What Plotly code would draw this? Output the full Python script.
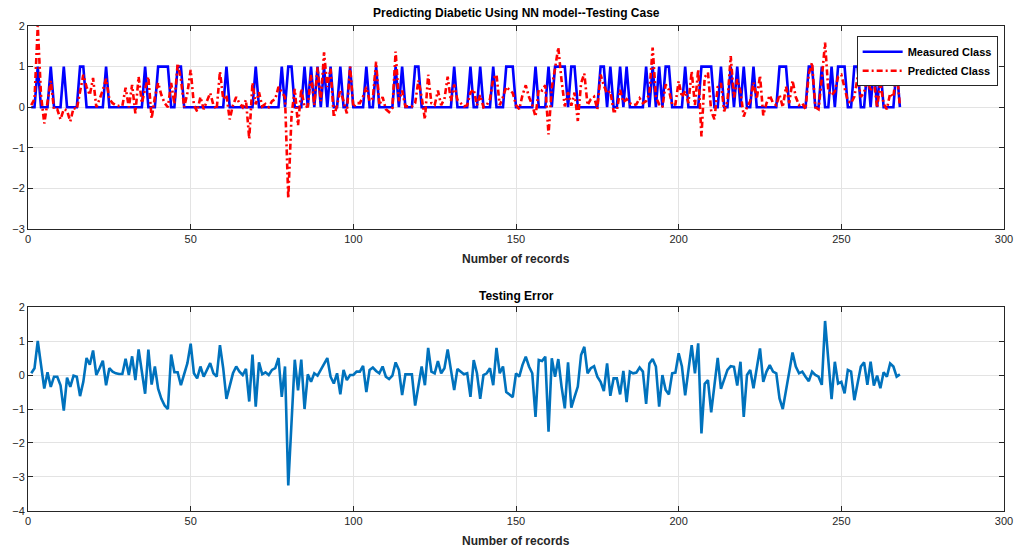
import plotly.graph_objects as go
from plotly.subplots import make_subplots

# Record indices 1..268
records = list(range(1, 269))

# Records whose measured class is 1 (all others are 0)
measured_one_records = [3, 7, 11, 16, 17, 24, 36, 40, 41, 42, 43, 46, 47, 61, 70, 78, 80, 81,
                        85, 87, 89, 91, 93, 96, 99, 104, 107, 113, 115, 119, 120, 131, 136, 139,
                        143, 147, 148, 149, 156, 160, 162, 163, 164, 165, 167, 168, 176, 177, 179,
                        182, 184, 190, 192, 194, 196, 197, 202, 207, 208, 209, 210, 213, 216, 218,
                        220, 223, 231, 232, 233, 240, 241, 244, 247, 249, 250, 251, 254, 255, 258,
                        260, 262, 267]

# Testing error (predicted - measured)
testing_error = [
    0.05, 0.2, 1.0, 0.3, -0.4, 0.08, -0.35, -0.05, -0.05, -0.3,
    -1.05, -0.08, -0.35, -0.02, -0.05, -0.62, -0.2, 0.5, 0.3, 0.72,
    0.0, 0.2, 0.42, -0.3, 0.2, 0.1, 0.05, 0.03, 0.03, 0.48,
    0.0, 0.55, -0.15, 0.75, 0.1, -0.55, 0.75, -0.28, 0.25, -0.4,
    -0.7, -0.9, -1.0, 0.6, 0.08, 0.08, -0.3, 0.0, 0.35, 0.92,
    0.05, -0.1, 0.25, -0.05, 0.15, 0.35, 0.05, -0.05, 0.88, 0.2,
    -0.7, -0.3, 0.05, 0.25, 0.1, 0.0, 0.18, -0.78, 0.6, -0.93,
    0.37, 0.02, 0.08, 0.0, 0.15, 0.2, 0.5, -0.64, 0.25, -3.25,
    -1.2, 0.45, -0.45, 0.45, -1.0, 0.02, -0.2, 0.05, -0.02, 0.15,
    0.35, 0.5, -0.05, -0.25, 0.05, -0.57, 0.15, -0.15, 0.0, 0.0,
    0.1, 0.1, 0.27, -0.5, 0.15, 0.22, 0.12, 0.05, 0.25, -0.05,
    -0.12, -0.02, 0.37, 0.15, -0.59, 0.02, 0.02, 0.02, -0.9, -0.34,
    0.25, -0.3, 0.8, 0.1, 0.05, 0.41, 0.05, 0.2, 0.75, 0.15,
    -0.44, 0.18, 0.1, 0.02, 0.05, -0.64, 0.44, 0.05, -0.7, 0.0,
    0.05, 0.2, -0.3, 0.8, 0.05, 0.25, -0.5, -0.57, -0.65, 0.05,
    -0.05, 0.3, 0.54, 0.25, 0.05, -1.23, 0.44, 0.41, 0.54, -1.67,
    0.49, -0.05, 0.47, -0.34, -0.98, 0.37, -0.96, -0.64, -0.34, 0.59,
    0.83, 0.05, 0.2, 0.26, -0.05, -0.2, -0.47, 0.34, -0.61, -0.1,
    -0.1, -0.57, 0.12, -0.8, 0.1, 0.05, 0.07, 0.22, 0.1, -0.85,
    0.34, 0.47, 0.25, -0.93, 0.0, -0.44, -0.57, 0.05, 0.07, 0.64,
    0.25, -0.6, 0.1, 0.88, 0.05, 0.93, -1.72, -0.26, -0.15, -1.1,
    -0.3, 0.5, -0.41, -0.1, 0.15, 0.26, 0.24, -0.31, 0.39, -1.23,
    0.0, 0.15, -0.39, 0.2, 0.78, -0.2, 0.1, 0.29, 0.1, 0.05,
    -0.69, -1.0, -0.49, 0.1, 0.66, 0.25, 0.05, 0.1, -0.05, -0.18,
    0.1, 0.0, -0.05, -0.29, 1.59, 0.4, -0.71, 0.39, -0.25, -0.2,
    -0.54, 0.15, 0.1, -0.74, -0.27, 0.25, 0.37, -0.29, 0.39, -0.31,
    -0.02, -0.39, 0.08, -0.05, 0.34, 0.25, -0.05, 0.02,
]

x_ticks = [0, 50, 100, 150, 200, 250, 300]
y_ticks_top = [-3, -2, -1, 0, 1, 2]
y_ticks_bottom = [-4, -3, -2, -1, 0, 1, 2]

measured_class = [1 if r in measured_one_records else 0 for r in records]
predicted_class = [m + e for m, e in zip(measured_class, testing_error)]

FONT = "Liberation Sans, Arial, Helvetica, sans-serif"
AXC = "#262626"
GRID = "#E3E3E3"

fig = make_subplots(rows=2, cols=1, vertical_spacing=0.0)

fig.add_trace(go.Scatter(x=records, y=measured_class, mode="lines", name="Measured Class",
                         line=dict(color="#0000FF", width=2.6)), row=1, col=1)
fig.add_trace(go.Scatter(x=records, y=predicted_class, mode="lines", name="Predicted Class",
                         line=dict(color="#FF0000", width=2.6, dash="6px,3px,2px,3px")), row=1, col=1)
fig.add_trace(go.Scatter(x=records, y=testing_error, mode="lines", name="Testing Error",
                         showlegend=False,
                         line=dict(color="#0072BD", width=2.6)), row=2, col=1)

axis_common = dict(showline=True, linecolor=AXC, linewidth=1, mirror="ticks",
                   ticks="inside", ticklen=5, tickcolor=AXC, showgrid=True,
                   gridcolor=GRID, gridwidth=1, zeroline=False,
                   tickfont=dict(family=FONT, size=11, color=AXC))

fig.update_xaxes(range=[0, 300], tickvals=x_ticks, **axis_common)
fig.update_yaxes(**axis_common)
fig.update_yaxes(range=[-3, 2], tickvals=y_ticks_top, row=1, col=1)
fig.update_yaxes(range=[-4, 2], tickvals=y_ticks_bottom, row=2, col=1)

fig.update_layout(
    width=1025, height=554,
    margin=dict(l=26, r=18, t=26, b=43),
    plot_bgcolor="white", paper_bgcolor="white",
    yaxis=dict(domain=[0.5814, 1.0]),
    yaxis2=dict(domain=[0.0, 0.4206]),
    legend=dict(x=0.9935, y=0.979, xanchor="right", yanchor="top",
                bgcolor="white", bordercolor=AXC, borderwidth=1,
                font=dict(family=FONT, size=11, color="black", weight="bold"),
                tracegroupgap=0, itemwidth=40),
    annotations=[
        dict(text="<b>Predicting Diabetic Using NN model--Testing Case</b>", x=0.5, y=1.0267,
             xref="paper", yref="paper", showarrow=False, xanchor="center", yanchor="middle",
             font=dict(family=FONT, size=12, color="black")),
        dict(text="<b>Testing Error</b>", x=0.5, y=0.4433,
             xref="paper", yref="paper", showarrow=False, xanchor="center", yanchor="middle",
             font=dict(family=FONT, size=12, color="black")),
        dict(text="<b>Number of records</b>", x=0.5, y=0.5196,
             xref="paper", yref="paper", showarrow=False, xanchor="center", yanchor="middle",
             font=dict(family=FONT, size=12, color=AXC)),
        dict(text="<b>Number of records</b>", x=0.5, y=-0.0619,
             xref="paper", yref="paper", showarrow=False, xanchor="center", yanchor="middle",
             font=dict(family=FONT, size=12, color=AXC)),
    ],
)

fig.write_html("out.html")
